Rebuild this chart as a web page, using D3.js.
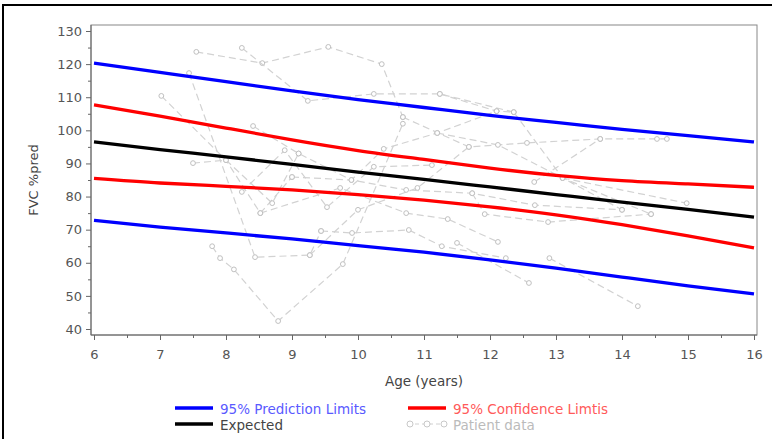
<!DOCTYPE html>
<meta charset="utf-8">
<style>
body { margin: 0; background: #fff; }
text { font-family: "DejaVu Sans", Verdana, sans-serif; }
.tick text { fill: #555; font-size: 13px; font-family: "DejaVu Sans", Verdana, sans-serif; }
.tick line, .domain { stroke: #666; }
</style>
<body>
<script src="https://d3js.org/d3.v7.min.js"></script>
<script>

// ages for the fitted curves
var ages = [6, 7, 8, 9, 10, 11, 12, 13, 14, 15, 16];

// fitted values
var expected  = [96.5, 94.2, 92.0, 89.7, 87.4, 85.2, 82.9, 80.6, 78.3, 76.1, 73.8];
var confUpper = [107.7, 104.3, 100.7, 97.1, 93.9, 91.2, 88.6, 86.4, 84.8, 83.8, 82.8];
var confLower = [85.5, 84.1, 83.1, 82.0, 80.6, 78.9, 76.9, 74.5, 71.5, 68.1, 64.5];
var predUpper = [120.3, 117.5, 114.7, 111.9, 109.3, 106.9, 104.5, 102.4, 100.3, 98.4, 96.5];
var predLower = [72.8, 70.8, 69.0, 67.2, 65.2, 63.2, 60.9, 58.4, 55.7, 53.0, 50.6];

// patient trajectories [age, FVC %pred]
var patients = [
  [[7.02, 110.4], [8.0, 91.0], [8.52, 75.0], [9.0, 85.9]],
  [[7.44, 117.3], [8.44, 61.7], [9.27, 62.3], [9.44, 69.6]],
  [[7.55, 123.7], [8.55, 120.3], [9.55, 125.2], [10.36, 120.0], [10.68, 104.0]],
  [[8.24, 124.9], [9.24, 108.9], [10.24, 111.0], [11.24, 111.0], [12.36, 105.5]],
  [[7.5, 90.1], [8.0, 91.0], [8.7, 78.0], [9.1, 93.0]],
  [[7.79, 65.0], [7.91, 61.4], [8.12, 58.0], [8.79, 42.4], [9.77, 59.6], [10.68, 102.0]],
  [[8.41, 101.3], [9.1, 93.0], [9.9, 85.0], [10.39, 94.4], [11.2, 99.2], [12.1, 105.8]],
  [[8.24, 81.4], [8.89, 94.0], [9.53, 76.8], [10.24, 89.0], [11.12, 89.5]],
  [[8.52, 75.0], [9.73, 82.6], [10.73, 75.0], [11.36, 73.2], [12.12, 66.3]],
  [[9.44, 69.6], [9.91, 69.0], [10.77, 69.9], [11.27, 65.0], [12.24, 61.4]],
  [[9.27, 62.3], [10.0, 76.0], [10.9, 82.6], [11.68, 95.0]],
  [[10.68, 104.0], [11.68, 95.0], [12.56, 96.2], [13.67, 97.4], [14.53, 97.4], [14.68, 97.4]],
  [[11.24, 111.0], [12.1, 105.8], [12.36, 105.5], [13.1, 85.6], [14.0, 76.0]],
  [[11.73, 81.0], [11.92, 74.7], [12.88, 72.3], [14.44, 74.7]],
  [[11.5, 66.0], [12.59, 53.9]],
  [[12.9, 61.4], [14.24, 46.9]],
  [[13.1, 85.6], [14.98, 78.0]],
  [[12.67, 84.4], [13.67, 97.4]],
  [[11.2, 99.2], [12.12, 95.6], [13.1, 85.6], [14.44, 74.7]],
  [[9.0, 85.9], [9.9, 85.0], [10.73, 82.0], [11.73, 81.0], [12.68, 77.4], [14.0, 76.0]]
];

var xTicks = [6, 7, 8, 9, 10, 11, 12, 13, 14, 15, 16];
var yTicks = [40, 50, 60, 70, 80, 90, 100, 110, 120, 130];

var W = 772, H = 439;
var svg = d3.select("body").append("svg").attr("width", W).attr("height", H);

// outer frame (only top / left visible)
svg.append("rect").attr("x", 3).attr("y", 5).attr("width", 820).attr("height", 500)
  .attr("fill", "none").attr("stroke", "#000").attr("stroke-width", 2);

var x = d3.scaleLinear().domain([6, 16]).range([94, 754]);
var y = d3.scaleLinear().domain([40, 130]).range([329, 31]);

// plot frame
svg.append("rect").attr("x", 91).attr("y", 25).attr("width", 666).attr("height", 310)
  .attr("fill", "none").attr("stroke", "#888");

// minor ticks
svg.append("g").attr("transform", "translate(0,335)")
  .call(d3.axisBottom(x).tickValues(d3.range(6.5, 16, 1)).tickSize(3).tickFormat(""))
  .call(function(g) { g.select(".domain").remove(); });
svg.append("g").attr("transform", "translate(91,0)")
  .call(d3.axisLeft(y).tickValues(d3.range(45, 130, 10)).tickSize(3).tickFormat(""))
  .call(function(g) { g.select(".domain").remove(); });

svg.append("g").attr("transform", "translate(0,335)")
  .call(d3.axisBottom(x).tickValues(xTicks).tickSize(5).tickPadding(10).tickSizeOuter(0))
  .call(function(g) { g.select(".domain").attr("d", "M91,0H757"); });
svg.append("g").attr("transform", "translate(91,0)")
  .call(d3.axisLeft(y).tickValues(yTicks).tickSize(5).tickPadding(4).tickSizeOuter(0))
  .call(function(g) { g.select(".domain").attr("d", "M0,25V335"); });

// patient data
var pline = d3.line().x(function(d) { return x(d[0]); }).y(function(d) { return y(d[1]); });
var pg = svg.append("g");
patients.forEach(function(p) {
  pg.append("path").attr("d", pline(p)).attr("fill", "none")
    .attr("stroke", "#d2d2d2").attr("stroke-width", 1.2).attr("stroke-dasharray", "7,4");
  pg.selectAll(null).data(p).enter().append("circle")
    .attr("cx", function(d) { return x(d[0]); })
    .attr("cy", function(d) { return y(d[1]); })
    .attr("r", 2.4).attr("fill", "#fff").attr("stroke", "#c0c0c0");
});

// fitted curves
var curve = d3.line().curve(d3.curveNatural)
  .x(function(d, i) { return x(ages[i]); })
  .y(function(d) { return y(d); });
[[predUpper, "#0000ff"], [predLower, "#0000ff"], [confUpper, "#ff0000"],
 [confLower, "#ff0000"], [expected, "#000"]].forEach(function(s) {
  svg.append("path").attr("d", curve(s[0])).attr("fill", "none")
    .attr("stroke", s[1]).attr("stroke-width", 3.3);
});

// axis titles
svg.append("text").attr("transform", "translate(38,180) rotate(-90)")
  .attr("text-anchor", "middle").attr("font-size", 13).attr("fill", "#444").text("FVC %pred");
svg.append("text").attr("x", 424).attr("y", 386)
  .attr("text-anchor", "middle").attr("font-size", 13.5).attr("fill", "#444").text("Age (years)");

// legend
var legend = [
  {label: "95% Prediction Limits", color: "#0000ff", text: "#5a5aff", lx: 175, ly: 408},
  {label: "95% Confidence Limtis", color: "#ff0000", text: "#ff5a5a", lx: 408, ly: 408},
  {label: "Expected", color: "#000", text: "#444", lx: 175, ly: 424},
  {label: "Patient data", color: null, text: "#bbb", lx: 408, ly: 424}
];
legend.forEach(function(l) {
  if (l.color) {
    svg.append("line").attr("x1", l.lx).attr("x2", l.lx + 38).attr("y1", l.ly).attr("y2", l.ly)
      .attr("stroke", l.color).attr("stroke-width", 3.5);
  } else {
    svg.append("line").attr("x1", l.lx).attr("x2", l.lx + 38).attr("y1", l.ly).attr("y2", l.ly)
      .attr("stroke", "#d0d0d0").attr("stroke-dasharray", "4,3");
    [2, 19, 36].forEach(function(dx) {
      svg.append("circle").attr("cx", l.lx + dx).attr("cy", l.ly).attr("r", 3)
        .attr("fill", "#fff").attr("stroke", "#c8c8c8");
    });
  }
  svg.append("text").attr("x", l.lx + 45).attr("y", l.ly + 5.5)
    .attr("font-size", 13.5).attr("fill", l.text).text(l.label);
});

</script>
</body>
